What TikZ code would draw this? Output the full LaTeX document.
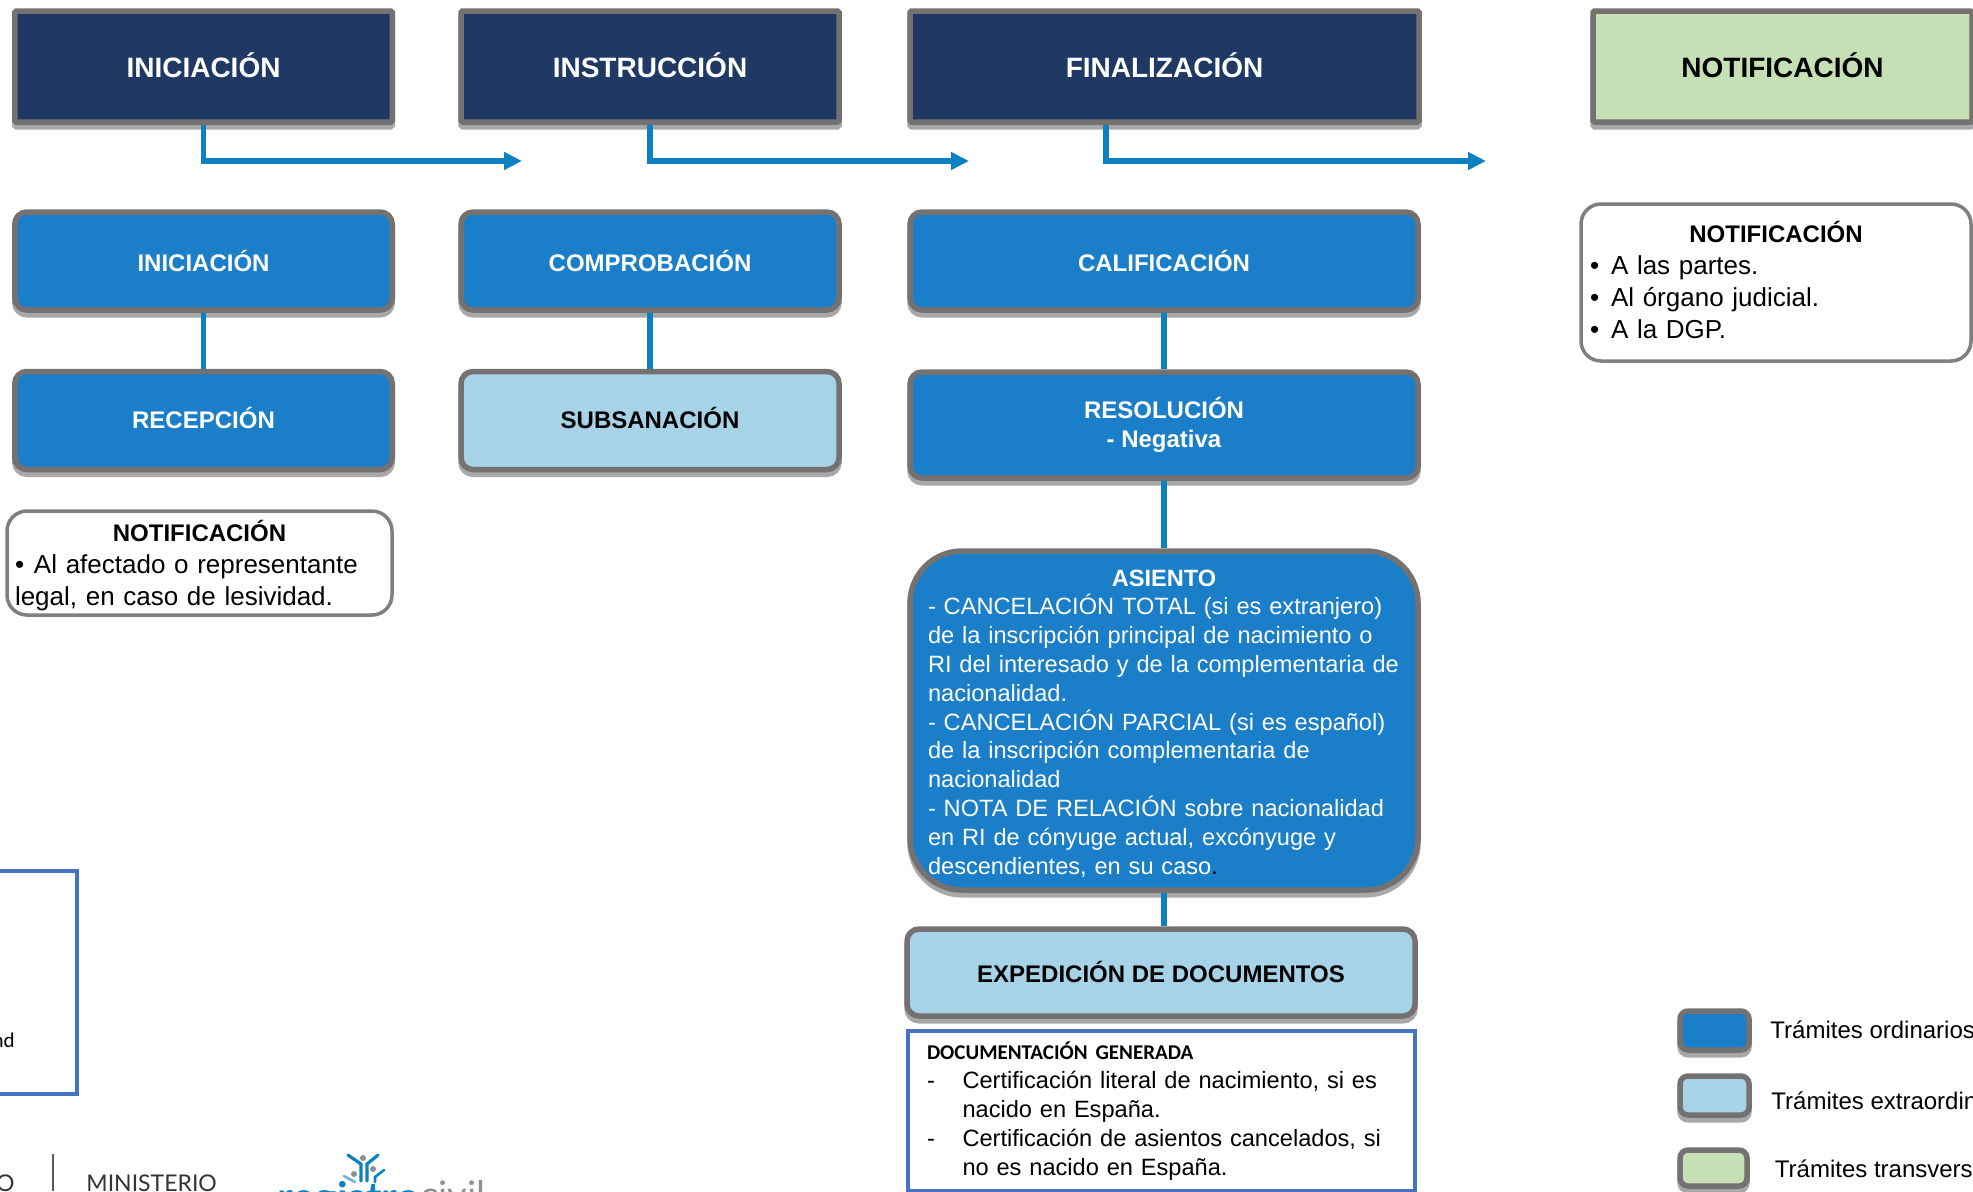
\documentclass[tikz,border=0pt]{standalone}
\usepackage{fontspec}
\setmainfont{Liberation Sans}
\newfontfamily\carlitofont{Carlito}
\newfontfamily\latofont{Lato}
\usetikzlibrary{arrows.meta}
\definecolor{navyfill}{HTML}{1F3864}
\definecolor{ordfill}{HTML}{1B7EC8}
\definecolor{extrafill}{HTML}{A6D3E8}
\definecolor{transfill}{HTML}{C5E0B4}
\definecolor{boxgray}{HTML}{767171}
\definecolor{boxshadow}{HTML}{A8A8A8}
\definecolor{linkblue}{HTML}{0B81C2}
\definecolor{notegray}{HTML}{7F7F7F}
\definecolor{docblue}{HTML}{4472C4}
\definecolor{logogray}{HTML}{8C9197}
\begin{document}
\begin{tikzpicture}[x=0.5pt,y=-0.5pt,
    basebox/.style = {draw=boxgray,line width=2.75pt,align=center,inner sep=0pt,
        preaction={draw=boxshadow,line width=2.75pt,transform canvas={yshift=-2.4pt}}},
    headbox/.style = {basebox,rounded corners=0.8pt,minimum height=55.5pt,text depth=1.25pt,font=\fontsize{14}{17}\selectfont\bfseries},
    stepbox/.style = {basebox,rounded corners=6pt,font=\fontsize{12}{14.5}\selectfont\bfseries},
    legendbox/.style = {basebox,rounded corners=4pt},
    notebox/.style = {draw=notegray,line width=1.75pt,rounded corners=10pt,inner sep=0pt,align=left,
        font=\fontsize{13}{15.9}\selectfont},
    legendtext/.style = {anchor=base west,inner sep=0pt,font=\fontsize{12}{14.5}\selectfont},
    link/.style = {draw=linkblue,line width=2.75pt},
    arrow/.style = {link,-{Triangle[length=9pt,width=8.5pt]}}]
    \useasboundingbox (0,0) rectangle (1973,1191);

    \node [headbox,fill=navyfill,text=white,minimum width=188.75pt] (headini) at (203.5,66.5) {INICIACIÓN};
    \node [headbox,fill=navyfill,text=white,minimum width=189pt] (headins) at (650,66.5) {INSTRUCCIÓN};
    \node [headbox,fill=navyfill,text=white,minimum width=254.5pt] (headfin) at (1164.5,66.5) {FINALIZACIÓN};
    \node [headbox,fill=transfill,minimum width=189.5pt] (headnot) at (1782.5,66.5) {NOTIFICACIÓN};

    \coordinate (endini) at (522,161);
    \coordinate (endins) at (969,161);
    \coordinate (endfin) at (1486,161);
    \coordinate (startfin) at (1106,125);
    \draw[arrow] (headini.south) |- (endini);
    \draw[arrow] (headins.south) |- (endins);
    \draw[arrow] (startfin) |- (endfin);

    \node [stepbox,fill=ordfill,text=white,minimum width=188.75pt,minimum height=49pt] (iniciacion) at (203.5,261) {INICIACIÓN};
    \node [stepbox,fill=ordfill,text=white,minimum width=188.75pt,minimum height=49pt,text depth=2.5pt] (recepcion) at (203.5,420.5) {RECEPCIÓN};
    \node [stepbox,fill=ordfill,text=white,minimum width=189pt,minimum height=49pt] (comprobacion) at (650,261) {COMPROBACIÓN};
    \node [stepbox,fill=extrafill,minimum width=189pt,minimum height=49pt,text depth=2.5pt] (subsanacion) at (650,420.5) {SUBSANACIÓN};
    \node [stepbox,fill=ordfill,text=white,minimum width=254pt,minimum height=49pt] (calificacion) at (1164,261) {CALIFICACIÓN};
    \node [stepbox,fill=ordfill,text=white,minimum width=254pt,minimum height=53pt] (resolucion) at (1164,425) {RESOLUCIÓN\\- Negativa};

    \node [stepbox,fill=ordfill,text=white,rounded corners=26pt,minimum width=254pt,minimum height=169.5pt,
        text width=236pt,align=left,font=\fontsize{11.8}{14.4}\selectfont] (asiento) at (1164,720.5) {%
        \rule{0pt}{11pt}\makebox[\linewidth][c]{\bfseries ASIENTO}\\
        - CANCELACIÓN TOTAL (si es extranjero)\\
        de la inscripción principal de nacimiento o\\
        RI del interesado y de la complementaria de\\
        nacionalidad.\\
        - CANCELACIÓN PARCIAL (si es español)\\
        de la inscripción complementaria de\\
        nacionalidad\\
        - NOTA DE RELACIÓN sobre nacionalidad\\
        en RI de cónyuge actual, excónyuge y\\
        descendientes, en su caso{\color{black}.}};

    \node [stepbox,fill=extrafill,minimum width=254pt,minimum height=43.5pt,text depth=1pt] (expedicion) at (1161,972.5) {EXPEDICIÓN DE DOCUMENTOS};

    \node [draw=docblue,line width=1.75pt,inner sep=0pt,minimum width=253.5pt,minimum height=80pt,
        text width=234.5pt,align=left,font=\fontsize{11.8}{14.5}\selectfont] (docgen) at (1161.5,1111) {%
        {\carlitofont\bfseries\fontsize{10.5}{14.5}\selectfont DOCUMENTACIÓN GENERADA}\\
        \makebox[17.75pt][l]{-}Certificación literal de nacimiento, si es\\
        \makebox[17.75pt][l]{}nacido en España.\\
        \makebox[17.75pt][l]{-}Certificación de asientos cancelados, si\\
        \makebox[17.75pt][l]{}no es nacido en España.};

    \node [notebox,minimum width=192.5pt,minimum height=52pt,text width=184.5pt] (notelesividad) at (199.5,563) {%
        \rule{0pt}{13pt}\makebox[\linewidth][c]{\fontsize{12}{16}\selectfont\bfseries NOTIFICACIÓN}\\
        \makebox[9.5pt][l]{•}Al afectado o representante\\
        legal, en caso de lesividad.};
    \node [notebox,minimum width=195pt,minimum height=78.5pt,text width=182pt] (notepartes) at (1776,282.5) {%
        \makebox[\linewidth][c]{\fontsize{12}{16}\selectfont\bfseries NOTIFICACIÓN}\\
        \makebox[8.5pt][l]{\hspace*{-2pt}•}A las partes.\\
        \makebox[8.5pt][l]{\hspace*{-2pt}•}Al órgano judicial.\\
        \makebox[8.5pt][l]{\hspace*{-2pt}•}A la DGP.\rule[-2.5pt]{0pt}{2.5pt}};

    \draw[link] (iniciacion.south) -- (recepcion.north);
    \draw[link] (comprobacion.south) -- (subsanacion.north);
    \draw[link] (calificacion.south) -- (resolucion.north);
    \draw[link] (resolucion.south) -- (asiento.north);
    \draw[link] (asiento.south) -- (asiento.south |- expedicion.north);

    \node [legendbox,fill=ordfill,minimum width=34.5pt,minimum height=19.5pt] (legendord) at (1714.5,1030.5) {};
    \node [legendbox,fill=extrafill,minimum width=34.5pt,minimum height=19.5pt] (legendextra) at (1714.5,1095.5) {};
    \node [legendbox,fill=transfill,minimum width=33.5pt,minimum height=18pt] (legendtrans) at (1713.5,1168) {};
    \node [legendtext] (textord) at (1770,1038) {Trámites ordinarios};
    \node [legendtext] (textextra) at (1771,1109) {Trámites extraordin};
    \node [legendtext] (texttrans) at (1774.5,1177) {Trámites transvers};

    \draw[draw=docblue,line width=1.75pt] (-10,871) rectangle (77,1094);
    \node [anchor=base east,inner sep=0pt,font=\carlitofont\fontsize{10.5}{13}\selectfont] (cutword) at (15,1047) {nd};

    \draw[draw=black!65,line width=0.8pt] (53,1154) -- (53,1191);
    \node [anchor=base east,inner sep=0pt,text=black!80,font=\latofont\fontsize{11.5}{13}\selectfont] (cutgob) at (15,1191) {O};
    \node [anchor=base west,inner sep=0pt,text=black!80,font=\latofont\fontsize{11.5}{13}\selectfont] (ministerio) at (86,1191) {MINISTERIO};

    \draw[linkblue,line width=1.6pt,line cap=round] (348,1155) -- (361,1164) -- (361,1181);
    \draw[linkblue,line width=1.6pt,line cap=round] (378,1155) -- (367,1164) -- (367,1181);
    \draw[linkblue,line width=1.3pt,line cap=round] (384,1170) -- (375,1177) -- (375,1182);
    \draw[linkblue!60,line width=1.3pt,line cap=round] (344,1176) -- (355,1182);
    \fill[logogray] (363,1158) circle (3) (354,1174) circle (3) (373,1169) circle (3);
    \node [anchor=base west,inner sep=0pt,text=linkblue,font=\latofont\bfseries\fontsize{21}{23}\selectfont] (logoblue) at (277,1212) {registro};
    \node [anchor=base west,inner sep=0pt,text=logogray,font=\latofont\fontsize{19}{21}\selectfont] (logotext) at (420,1208) {civil};
\end{tikzpicture}
\end{document}
